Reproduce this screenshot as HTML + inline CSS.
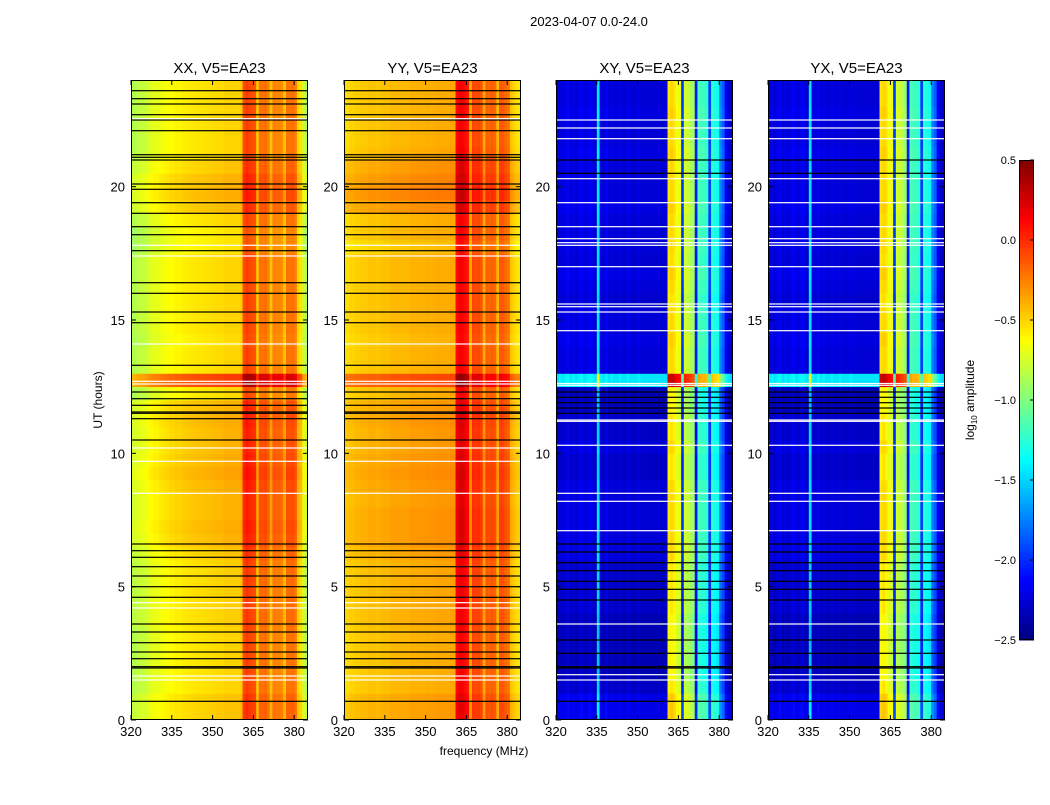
<!DOCTYPE html>
<html><head><meta charset="utf-8">
<style>
body{margin:0;background:#fff;}
svg text{font-family:"Liberation Sans",sans-serif;fill:#000;}
</style></head>
<body>
<svg id="fig" width="1050" height="800" xmlns="http://www.w3.org/2000/svg">
<rect width="1050" height="800" fill="#fff"/>
<text x="589" y="26" font-size="13" text-anchor="middle">2023-04-07 0.0-24.0</text>
<text x="484" y="755" font-size="12" text-anchor="middle">frequency (MHz)</text>
<text x="102" y="400" font-size="12" text-anchor="middle" transform="rotate(-90 102 400)">UT (hours)</text>
<text x="974" y="400" font-size="12" text-anchor="middle" transform="rotate(-90 974 400)">log<tspan font-size="8" dy="3">10</tspan><tspan dy="-3"> amplitude</tspan></text>
</svg>
<script>
// ---- data ----
const freqStart = 320; // MHz, 1 MHz bins 320..384
const hourStep = 0.5;  // rows of 0.5 h, 0..24
const xTicks = [320,335,350,365,380];
const yTicks = [0,5,10,15,20];
const cbTicks = [0.5,0.0,-0.5,-1.0,-1.5,-2.0,-2.5];
const panelTitles = ["XX, V5=EA23","YY, V5=EA23","XY, V5=EA23","YX, V5=EA23"];
const colXX = [-0.85,-0.85,-0.82,-0.8,-0.8,-0.78,-0.75,-0.72,-0.7,-0.7,-0.68,-0.66,-0.65,-0.64,-0.62,-0.62,-0.6,-0.6,-0.6,-0.58,-0.58,-0.57,-0.56,-0.56,-0.55,-0.55,-0.55,-0.54,-0.54,-0.53,-0.53,-0.52,-0.52,-0.52,-0.5,-0.5,-0.5,-0.5,-0.5,-0.5,-0.48,-0.1,-0.05,-0.08,-0.1,-0.12,-0.45,-0.2,-0.22,-0.2,-0.25,-0.45,-0.25,-0.28,-0.26,-0.3,-0.45,-0.2,-0.22,-0.2,-0.25,-0.5,-0.55,-0.8,-0.85];
const colYY = [-0.52,-0.52,-0.5,-0.5,-0.48,-0.48,-0.47,-0.47,-0.47,-0.45,-0.45,-0.45,-0.47,-0.45,-0.44,-0.44,-0.44,-0.42,-0.42,-0.42,-0.42,-0.42,-0.42,-0.42,-0.4,-0.4,-0.4,-0.4,-0.4,-0.4,-0.39,-0.39,-0.39,-0.39,-0.38,-0.38,-0.38,-0.38,-0.38,-0.37,-0.37,0.1,0.15,0.15,0.1,0.05,-0.38,-0.08,-0.1,-0.08,-0.12,-0.38,-0.15,-0.18,-0.15,-0.18,-0.42,-0.12,-0.15,-0.18,-0.22,-0.45,-0.5,-0.55,-0.55];
const colXY = [-2.3,-2.25,-2.3,-2.25,-2.2,-2.3,-2.25,-2.3,-2.25,-2.2,-2.3,-2.25,-2.2,-2.25,-2.3,-1.5,-2.25,-2.3,-2.2,-2.3,-2.25,-2.3,-2.3,-2.25,-2.3,-2.3,-2.25,-2.3,-2.3,-2.3,-2.25,-2.3,-2.3,-2.3,-2.3,-2.3,-2.3,-2.3,-2.3,-2.3,-2.3,-0.6,-0.55,-0.6,-0.7,-0.75,-2.0,-0.8,-0.85,-0.9,-0.95,-2.1,-1.2,-1.25,-1.25,-1.3,-2.0,-1.3,-1.35,-1.4,-1.8,-1.9,-2.2,-2.3,-2.35];
const colYX = colXY.slice();
const rowXX = [0.05,0.05,0,0,0,0,0,0.02,0.02,0.02,0.02,0.02,0.05,0.1,0.12,0.1,0.1,0.12,0.15,0.12,0.1,0.1,0.12,0.1,-0.02,0.45,0,0,-0.02,0,0,0,0,0,0,-0.05,-0.05,0,0.08,0.12,0.1,0.05,0,0,0,0,0,0];
const rowYY = [0.05,0.05,0,0,0,0,0,0.02,0.02,0.02,0.02,0.02,0.05,0.08,0.08,0.08,0.06,0.08,0.1,0.08,0.06,0.06,0.08,0.06,0,0.3,0,0,-0.02,0,0,0,0,0,0,-0.05,0,0,0.1,0.15,0.12,0.08,0.02,0,0,0,0,0];
const rowXY = [0.1,0.1,0,-0.05,-0.05,-0.05,-0.05,-0.05,0,0,0,0,0.05,0.05,0.05,0.05,0.05,0.05,0,0,0.05,0,0,-0.05,-0.05,0.85,0.05,0.05,0.08,0.05,0.05,0.02,0.05,0.08,0.03,0.05,0.05,0.05,0.08,0.05,0.05,0.05,0.08,0.05,0.05,0.08,0.05,0.05];
const rowYX = rowXY.slice();
const flagBlackXX = [0.7,1.95,2.0,2.3,2.55,2.9,3.3,3.6,4.6,5.0,5.4,5.75,6.1,6.35,6.6,10.5,11.3,11.5,11.55,11.8,12.05,12.3,13.3,14.9,15.3,16.0,16.4,17.6,18.2,18.5,19.0,19.4,19.9,20.1,21.0,21.1,21.2,22.1,22.5,22.7,23.1,23.3,23.6];
const flagWhiteXX = [1.5,1.65,4.2,4.4,8.5,9.7,10.2,12.6,12.7,14.1,17.4,17.8,22.55];
const flagBlackXY = [0.7,1.95,2.0,2.5,3.0,4.5,4.9,5.2,5.6,5.9,6.3,6.6,11.5,11.7,11.9,12.1,12.3,20.5,21.0];
const flagWhiteXY = [1.5,1.7,3.6,7.1,8.2,8.5,10.3,11.2,11.25,12.55,12.62,14.6,15.3,15.5,15.6,17.0,17.8,17.9,18.05,18.5,19.4,20.3,21.8,22.2,22.5];

const cols = [colXX,colYY,colXY,colYX];
const rows = [rowXX,rowYY,rowXY,rowYX];
const blacks = [flagBlackXX,flagBlackXX,flagBlackXY,flagBlackXY];
const whites = [flagWhiteXX,flagWhiteXX,flagWhiteXY,flagWhiteXY];

// ---- geometry ----
const panelX = [131,344,556,768];
const panelW = 177, plotTop = 80, plotBottom = 720;
const pxPerMHz = 2.72, pxPerHour = (plotBottom-plotTop)/24;
const vmin=-2.5, vmax=0.5;
const NS="http://www.w3.org/2000/svg";
const svg=document.getElementById('fig');
function el(tag,attrs,parent){const e=document.createElementNS(NS,tag);for(const k in attrs)e.setAttribute(k,attrs[k]);(parent||svg).appendChild(e);return e;}
function jet(v){let t=(v-vmin)/(vmax-vmin);t=Math.max(0,Math.min(1,t));
 const f=x=>Math.max(0,Math.min(1,x));
 const r=f(1.5-Math.abs(4*t-3)),g=f(1.5-Math.abs(4*t-2)),b=f(1.5-Math.abs(4*t-1));
 return `rgb(${Math.round(r*255)},${Math.round(g*255)},${Math.round(b*255)})`;}
function fmt(v){return (v<0?'\u2212':'')+Math.abs(v).toFixed(1);}

for(let p=0;p<4;p++){
 const x0=panelX[p];
 const xs=f=>x0+(f-freqStart)*pxPerMHz;
 const ys=h=>plotBottom-h*pxPerHour;
 const g=el('g',{});
 
 
 const clip=el('clipPath',{id:'c'+p},g);el('rect',{x:x0,y:plotTop,width:panelW,height:plotBottom-plotTop},clip);
 const hm=el('g',{'clip-path':'url(#c'+p+')'},g);
 const c=cols[p], r=rows[p];
 for(let i=0;i<r.length;i++){
  for(let j=0;j<c.length;j++){
   const rc=el('rect',{x:xs(freqStart+j).toFixed(2),y:ys((i+1)*hourStep).toFixed(2),width:(pxPerMHz+0.4).toFixed(2),height:(pxPerHour*hourStep+0.4).toFixed(2),fill:jet(c[j]+r[i])},hm);
   
   
  }
 }
 blacks[p].forEach(h=>{const l=el('rect',{x:x0,y:(ys(h)-0.6).toFixed(1),width:panelW,height:1.2,fill:'#000'},hm);
   
   });
 whites[p].forEach(h=>{const l=el('rect',{x:x0,y:(ys(h)-0.6).toFixed(1),width:panelW,height:1.2,fill:'#fff'},hm);
   
   });
 el('rect',{x:x0+0.5,y:plotTop+0.5,width:panelW-1,height:plotBottom-plotTop-1,fill:'none',stroke:'#000','stroke-width':1},g);
 const t=el('text',{x:x0+panelW/2,y:plotTop-7,'font-size':15,'text-anchor':'middle'},g);t.textContent=panelTitles[p];
 
 
 xTicks.forEach(f=>{const X=xs(f);
  el('line',{x1:X,x2:X,y1:plotBottom,y2:plotBottom-5,stroke:'#000'},g);el('line',{x1:X,x2:X,y1:plotTop,y2:plotTop+5,stroke:'#000'},g);
  const tt=el('text',{x:X,y:plotBottom+16,'font-size':13,'text-anchor':'middle'},g);tt.textContent=f;
  
  });
 yTicks.forEach(h=>{const Y=ys(h);
  el('line',{x1:x0,x2:x0+5,y1:Y,y2:Y,stroke:'#000'},g);el('line',{x1:x0+panelW,x2:x0+panelW-5,y1:Y,y2:Y,stroke:'#000'},g);
  const tt=el('text',{x:x0-6,y:Y+5,'font-size':13,'text-anchor':'end'},g);tt.textContent=h;
  
  });
}
// colorbar
const cb=el('g',{});


const cbX=1019,cbW=15,cbTop=160,cbBot=640;
const cy=v=>cbBot-(v-vmin)/(vmax-vmin)*(cbBot-cbTop);
for(let k=0;k<120;k++){const v0=vmin+k*(vmax-vmin)/120,v1=vmin+(k+1)*(vmax-vmin)/120;
 el('rect',{x:cbX,y:cy(v1),width:cbW,height:cy(v0)-cy(v1)+0.5,fill:jet((v0+v1)/2)},cb);}
el('rect',{x:cbX+0.5,y:cbTop+0.5,width:cbW-1,height:cbBot-cbTop-1,fill:'none',stroke:'#000'},cb);
cbTicks.forEach(v=>{const Y=cy(v);el('line',{x1:cbX+cbW-4,x2:cbX+cbW,y1:Y,y2:Y,stroke:'#000'},cb);
 const tt=el('text',{x:cbX-3,y:Y+4,'font-size':11,'text-anchor':'end'},cb);tt.textContent=fmt(v);
 
 });
</script>
</body></html>
